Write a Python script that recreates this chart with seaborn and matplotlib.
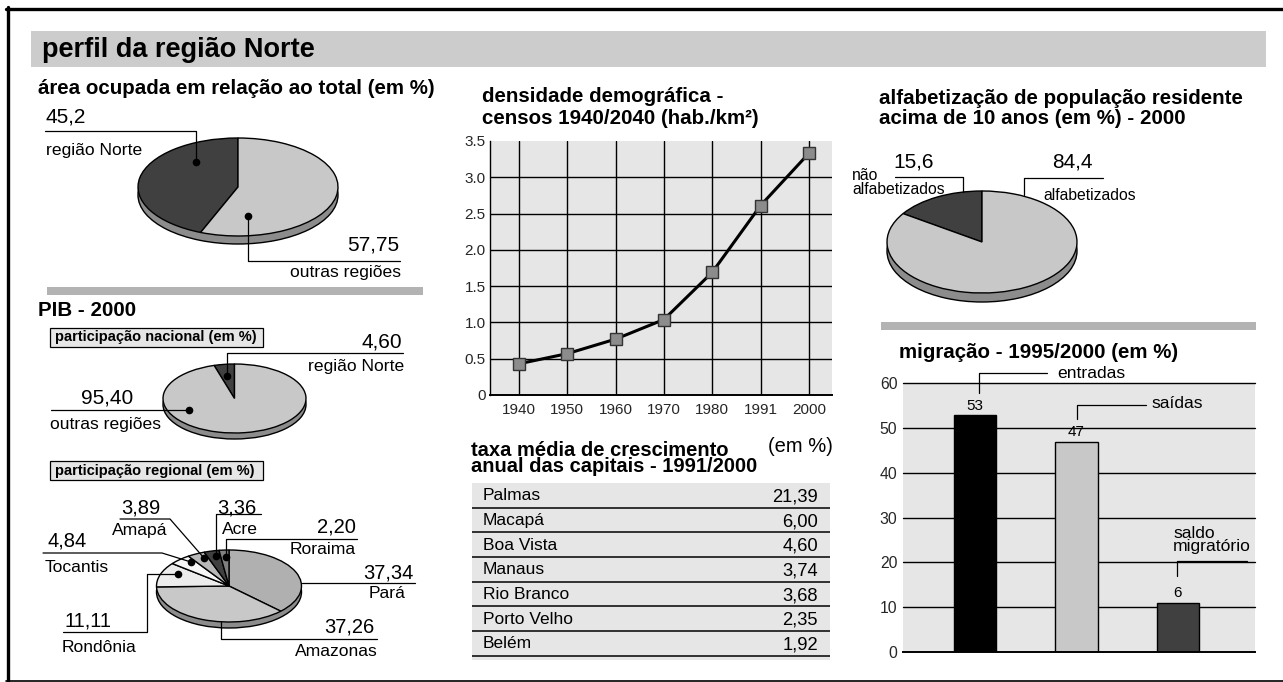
import matplotlib
matplotlib.use("Agg")
import matplotlib.pyplot as plt
from matplotlib.patches import Rectangle
import seaborn as sns

# ---- data ----
area_labels = ["região Norte", "outras regiões"]
area_values = [45.2, 57.75]

pib_nac_labels = ["região Norte", "outras regiões"]
pib_nac_values = [4.60, 95.40]

pib_reg_labels = ["Pará", "Amazonas", "Rondônia", "Tocantis", "Amapá", "Acre", "Roraima"]
pib_reg_values = [37.34, 37.26, 11.11, 4.84, 3.89, 3.36, 2.20]

dens_years = ["1940", "1950", "1960", "1970", "1980", "1991", "2000"]
dens_values = [0.43, 0.57, 0.77, 1.04, 1.69, 2.61, 3.33]
dens_ticks = [0, 0.5, 1.0, 1.5, 2.0, 2.5, 3.0, 3.5]

cap_names = ["Palmas", "Macapá", "Boa Vista", "Manaus", "Rio Branco", "Porto Velho", "Belém"]
cap_rates = [21.39, 6.00, 4.60, 3.74, 3.68, 2.35, 1.92]

alfa_labels = ["não alfabetizados", "alfabetizados"]
alfa_values = [15.6, 84.4]

mig_labels = ["entradas", "saídas", "saldo\nmigratório"]
mig_heights = [52.8, 46.8, 11.0]   # bar heights as drawn
mig_texts = ["53", "47", "6"]      # printed values
mig_ticks = [0, 10, 20, 30, 40, 50, 60]

W, H = 1283, 682
DARK, LIGHT, RIM, PANEL = "#404040", "#c8c8c8", "#8c8c8c", "#e6e6e6"

TITLE = 14.8   # bold section titles
NUM = 15       # big numbers next to pies
LAB = 12.6     # labels next to pies


def br(v, fmt):
    return format(v, fmt).replace(".", ",")


sns.set_theme(style="white")
plt.rcParams["font.family"] = ["Liberation Sans", "DejaVu Sans"]
plt.rcParams["text.color"] = "black"

fig = plt.figure(figsize=(W / 100, H / 100), dpi=100)
fig.patch.set_facecolor("white")


def px_axes(x0, y0, x1, y1):
    return fig.add_axes([x0 / W, 1 - y1 / H, (x1 - x0) / W, (y1 - y0) / H])


def draw_pie(cx, cy, rx, ry, thick, values, colors, start, ccw):
    pad = 3
    ax = px_axes(cx - rx - pad, cy - ry - pad, cx + rx + pad, cy + ry + thick + pad)
    # the "3d" rim is just a grey copy of the disc pushed down a few pixels
    ax.pie([1], colors=[RIM], center=(0, -thick / ry), radius=1,
           wedgeprops=dict(edgecolor="black", linewidth=1))
    ax.pie(values, colors=colors, startangle=start, counterclock=ccw, radius=1,
           wedgeprops=dict(edgecolor="black", linewidth=1))
    ax.set_aspect("auto")
    ax.set_xlim(-(rx + pad) / rx, (rx + pad) / rx)
    ax.set_ylim(-(ry + thick + pad) / ry, (ry + pad) / ry)
    ax.axis("off")
    return ax


# ---- pies ----
draw_pie(238, 187, 100, 49, 8, area_values, [DARK, LIGHT], 90, True)
draw_pie(234.5, 398.5, 71.5, 34.5, 6, pib_nac_values, [DARK, LIGHT], 90, True)
draw_pie(229, 586, 72.5, 36, 6, pib_reg_values,
         ["#b0b0b0", "#c8c8c8", "#ececec", "#f6f6f6", "#b8b8b8", DARK, "#808080"], 90, False)
draw_pie(982, 242, 95, 51, 9, alfa_values, [DARK, LIGHT], 90, True)

# ---- density line chart ----
ax = px_axes(490, 141, 832, 395)
ax.set_facecolor(PANEL)
pos = list(range(len(dens_years)))
for p in pos:
    ax.axvline(p, color="black", lw=1, zorder=1)
for t in dens_ticks[1:-1]:
    ax.axhline(t, color="black", lw=1, zorder=1)
sns.lineplot(x=pos, y=dens_values, ax=ax, color="black", lw=2.2, marker="s",
             markersize=8, markerfacecolor="#8c8c8c", markeredgecolor="#333333",
             markeredgewidth=1, zorder=3)
ax.set_xlim(-0.6, 6.48)
ax.set_ylim(0, 3.5)
ax.set_xticks(pos)
ax.set_xticklabels(dens_years, fontsize=11)
ax.set_yticks(dens_ticks)
ax.set_yticklabels(["0"] + [f"{t:.1f}" for t in dens_ticks[1:]], fontsize=11)
ax.tick_params(length=0, pad=3)
ax.tick_params(axis="x", pad=6)
for s in ["top", "right"]:
    ax.spines[s].set_visible(False)
ax.spines["left"].set_color("black")
ax.spines["left"].set_linewidth(1)
ax.spines["bottom"].set_color("black")
ax.spines["bottom"].set_linewidth(1.4)
ax.set_xlabel("")
ax.set_ylabel("")

# ---- capitals table ----
tb = px_axes(472, 483, 830, 660)
tb.set_facecolor(PANEL)
tb.set_xlim(0, 1)
tb.set_ylim(7.17, 0)
for i, (name, rate) in enumerate(zip(cap_names, cap_rates)):
    tb.text(0.03, i + 0.52, name, fontsize=12.5, va="center", ha="left")
    tb.text(0.966, i + 0.56, br(rate, ".2f"), fontsize=13.2, va="center", ha="right")
    tb.axhline(i + 1, color="#222222", lw=1.3)
tb.set_xticks([])
tb.set_yticks([])
for s in tb.spines.values():
    s.set_visible(False)

# ---- migration bar chart ----
bx = px_axes(903, 383, 1255, 652)
bx.set_facecolor(PANEL)
for t in mig_ticks[1:]:
    bx.axhline(t, color="black", lw=1, zorder=0.5, clip_on=False)
sns.barplot(x=mig_labels, y=mig_heights, hue=mig_labels,
            palette=["black", LIGHT, DARK], legend=False, width=0.42,
            edgecolor="black", linewidth=1, ax=bx, zorder=2)
for cont, txt_ in zip(bx.containers, mig_texts):
    bx.bar_label(cont, labels=[txt_], padding=2, fontsize=11)
bx.set_xlim(-0.71, 2.76)
bx.set_ylim(0, 60)
bx.set_xticks([])
bx.set_yticks(mig_ticks)
bx.set_yticklabels([str(t) for t in mig_ticks], fontsize=11.3)
bx.tick_params(length=0, pad=4)
for s in ["top", "right", "left"]:
    bx.spines[s].set_visible(False)
bx.spines["bottom"].set_color("black")
bx.spines["bottom"].set_linewidth(1.4)
bx.set_xlabel("")
bx.set_ylabel("")

# ---- overlay: frame, headings, leaders, labels ----
ov = px_axes(0, 0, W, H)
ov.set_xlim(0, W)
ov.set_ylim(H, 0)
ov.axis("off")
ov.set_zorder(5)
ov.patch.set_alpha(0)

ov.plot([6, W], [8.5, 8.5], color="black", lw=2.4)
ov.plot([7.5, 7.5], [7, H], color="black", lw=2.4)
ov.plot([6, W], [680.5, 680.5], color="black", lw=1.2)

ov.add_patch(Rectangle((31, 31), 1235, 36, color="#cccccc", lw=0))
ov.add_patch(Rectangle((47, 287), 376, 8, color="#b3b3b3", lw=0))
ov.add_patch(Rectangle((881, 322), 375, 8, color="#b3b3b3", lw=0))
for y0 in (328, 461):
    ov.add_patch(Rectangle((50, y0), 213, 19, facecolor=PANEL, edgecolor="black", lw=0.9))


def txt(x, y, s, size=LAB, ha="left", bold=False, **kw):
    ov.text(x, y, s, fontsize=size, ha=ha, va="center",
            fontweight="bold" if bold else "normal", **kw)


def leader(pts, dot=True):
    xs, ys = zip(*pts)
    ov.plot(xs, ys, color="black", lw=0.9)
    if dot:
        ov.plot(xs[-1], ys[-1], "o", color="black", ms=4.5)


txt(42, 50, "perfil da região Norte", 19.5, bold=True)

# area
txt(38, 88, "área ocupada em relação ao total (em %)", TITLE, bold=True)
txt(46, 117, br(area_values[0], "g"), NUM)
txt(46, 150, area_labels[0])
leader([(45, 131), (196, 131), (196, 162)])
txt(399, 245, br(area_values[1], "g"), NUM, ha="right")
txt(401, 273, area_labels[1], ha="right")
leader([(400, 261), (248, 261), (248, 216)])

# PIB national
txt(38, 310, "PIB - 2000", TITLE, bold=True)
txt(55, 337.5, "participação nacional (em %)", 10.5, bold=True)
txt(402, 342, br(pib_nac_values[0], ".2f"), NUM, ha="right")
txt(404, 367, pib_nac_labels[0], ha="right")
leader([(403, 353), (227, 353), (227, 376)])
txt(107, 398, br(pib_nac_values[1], ".2f"), NUM, ha="center")
txt(50, 425, pib_nac_labels[1])
leader([(51, 410), (189, 410)])

# PIB regional
txt(55, 471.5, "participação regional (em %)", 10.5, bold=True)
reg_layout = {
    "Pará": dict(num=(414, 573, "right"), lab=(406, 594, "right"),
                 line=[(302, 583), (415, 583)], dot=False),
    "Amazonas": dict(num=(374, 627, "right"), lab=(378, 652, "right"),
                     line=[(221, 622), (221, 639), (377, 639)], dot=False),
    "Rondônia": dict(num=(64, 621, "left"), lab=(62, 647, "left"),
                     line=[(63, 632), (147, 632), (147, 574), (178, 574)], dot=True),
    "Tocantis": dict(num=(47, 541, "left"), lab=(45, 567, "left"),
                     line=[(43, 553), (162, 553), (191, 562)], dot=True),
    "Amapá": dict(num=(121, 508, "left"), lab=(112, 530, "left"),
                  line=[(120, 519), (170, 519), (204, 558)], dot=True),
    "Acre": dict(num=(217, 508, "left"), lab=(222, 530, "left"),
                 line=[(261, 514), (216, 514), (216, 556)], dot=True),
    "Roraima": dict(num=(356, 527, "right"), lab=(356, 549, "right"),
                    line=[(357, 539), (226, 539), (226, 557)], dot=True),
}
for name, val in zip(pib_reg_labels, pib_reg_values):
    lay = reg_layout[name]
    nx, ny, nha = lay["num"]
    lx, ly, lha = lay["lab"]
    txt(nx, ny, br(val, ".2f"), NUM - 0.5, ha=nha)
    txt(lx, ly, name, ha=lha)
    leader(lay["line"], lay["dot"])

# density title
txt(482, 97, "densidade demográfica -", TITLE, bold=True)
txt(482, 119, "censos 1940/2040 (hab./km²)", TITLE, bold=True)

# table title (the two lines sit tight in the original)
ov.text(471, 458, "taxa média de crescimento\nanual das capitais - 1991/2000",
        fontsize=14.5, fontweight="bold", ha="left", va="center", linespacing=0.8)
txt(833, 446, "(em %)", 14.5, ha="right")

# literacy
txt(879, 98, "alfabetização de população residente", TITLE, bold=True)
txt(879, 119, "acima de 10 anos (em %) - 2000", TITLE, bold=True)
txt(893, 162, br(alfa_values[0], ".1f"), NUM)
non, alf = alfa_labels[0].split(" ")
txt(852, 176, non, 11.3)
txt(852, 190, alf, 11.3)
leader([(895, 177), (963, 177), (963, 192)], dot=False)
txt(1052, 162, br(alfa_values[1], ".1f"), NUM)
txt(1043, 195, alfa_labels[1], 11.3)
leader([(1103, 178), (1024, 178), (1024, 195)], dot=False)

# migration
txt(899, 353, "migração - 1995/2000 (em %)", TITLE, bold=True)
txt(1057, 374, mig_labels[0])
leader([(979, 393), (979, 373), (1047, 373)], dot=False)
txt(1151, 404, mig_labels[1])
leader([(1077, 419), (1077, 405), (1146, 405)], dot=False)
ov.text(1173, 540, mig_labels[2], fontsize=LAB, ha="left", va="center", linespacing=0.85)
leader([(1177, 576), (1177, 561), (1247, 561)], dot=False)

fig.savefig("out.png", dpi=100)
